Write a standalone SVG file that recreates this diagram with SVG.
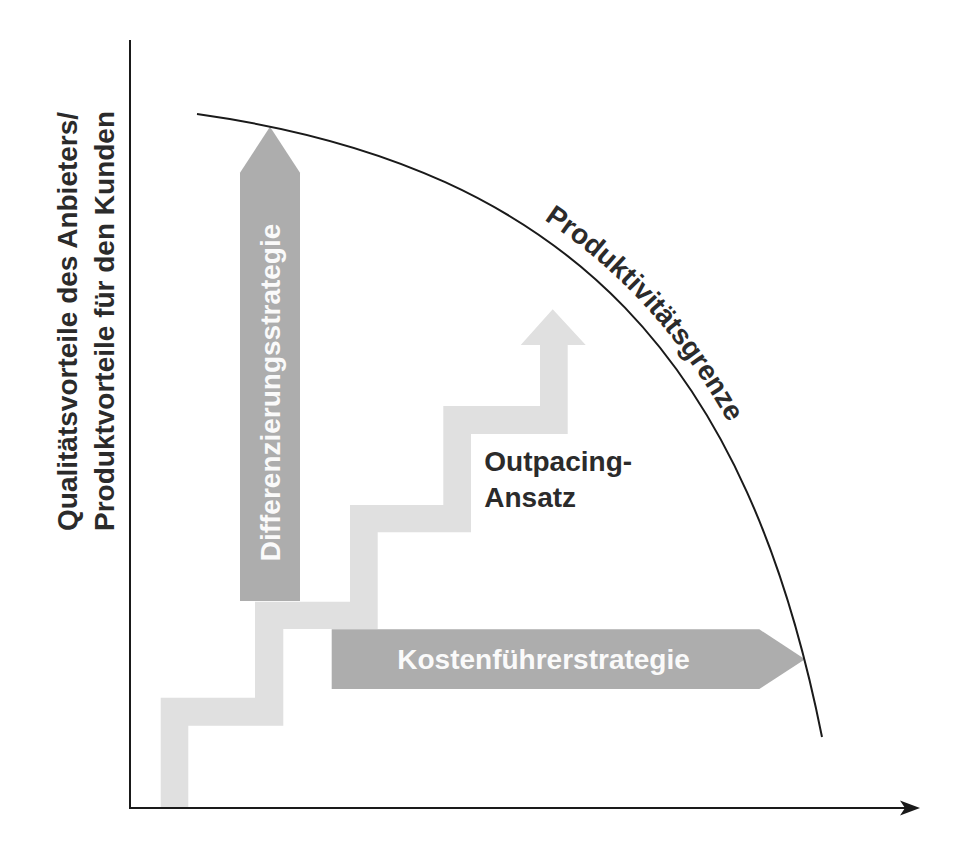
<svg xmlns="http://www.w3.org/2000/svg" width="969" height="842" viewBox="0 0 969 842">
<style>
  .lbl { font-family: "Liberation Sans", Arial, Helvetica, sans-serif; font-weight: bold; font-size: 28px; }
  .dark { fill: #2b2b2b; }
  .light { fill: #fafafa; }
  .strong { fill: #adadad; }
  .pale { fill: #e0e0e0; }
  .axis { stroke: #1a1a1a; stroke-width: 2; fill: none; }
</style>
<defs>
  <path id="frontierText" d="M198.8,101.1 C587,155.5 757.8,350.1 834.7,734.5"/>
</defs>
<rect width="969" height="842" fill="#ffffff"/>

<g id="outpacing">
  <polygon class="pale" points="160.7,807 160.7,697.7 255,697.7 255,601.7 350,601.7 350,505 443.3,505 443.3,406 540,406 540,345 520.7,345 552.7,309.3 585.7,345 567.7,345 567.7,434 471,434 471,532.3 377.7,532.3 377.7,629 283.3,629 283.3,725.7 188.3,725.7 188.3,807"/>
  <text class="lbl dark" x="484.3" y="470.7">Outpacing-</text>
  <text class="lbl dark" x="484.3" y="507.3">Ansatz</text>
</g>

<g id="differenzierung">
  <polygon class="strong" points="240,601 240,172.7 270,126.7 300,172.7 300,601"/>
  <text class="lbl light" transform="translate(280,392.5) rotate(-90)" text-anchor="middle">Differenzierungsstrategie</text>
</g>

<g id="kostenfuehrer">
  <polygon class="strong" points="331.7,629.3 759.3,629.3 805,659.3 759.3,689 331.7,689"/>
  <text class="lbl light" x="397.3" y="669.3">Kostenführerstrategie</text>
</g>

<g id="connectors">
  <line class="axis" x1="130" y1="40" x2="130" y2="808"/>
  <line class="axis" x1="129" y1="808" x2="906" y2="808"/>
  <polygon fill="#1a1a1a" points="920,808 900,800.5 905,808 900,815.5"/>
  <path id="frontier" class="axis" d="M197,114 C578.3,167.4 748.5,369.3 822,737"/>
</g>

<g id="frontier-label">
  <text class="lbl dark"><textPath href="#frontierText" startOffset="368">Produktivitätsgrenze</textPath></text>
</g>

<g id="y-axis-label">
  <text class="lbl dark" transform="translate(77,531) rotate(-90)">Qualitätsvorteile des Anbieters/</text>
  <text class="lbl dark" transform="translate(113.5,531) rotate(-90)">Produktvorteile für den Kunden</text>
</g>
</svg>
